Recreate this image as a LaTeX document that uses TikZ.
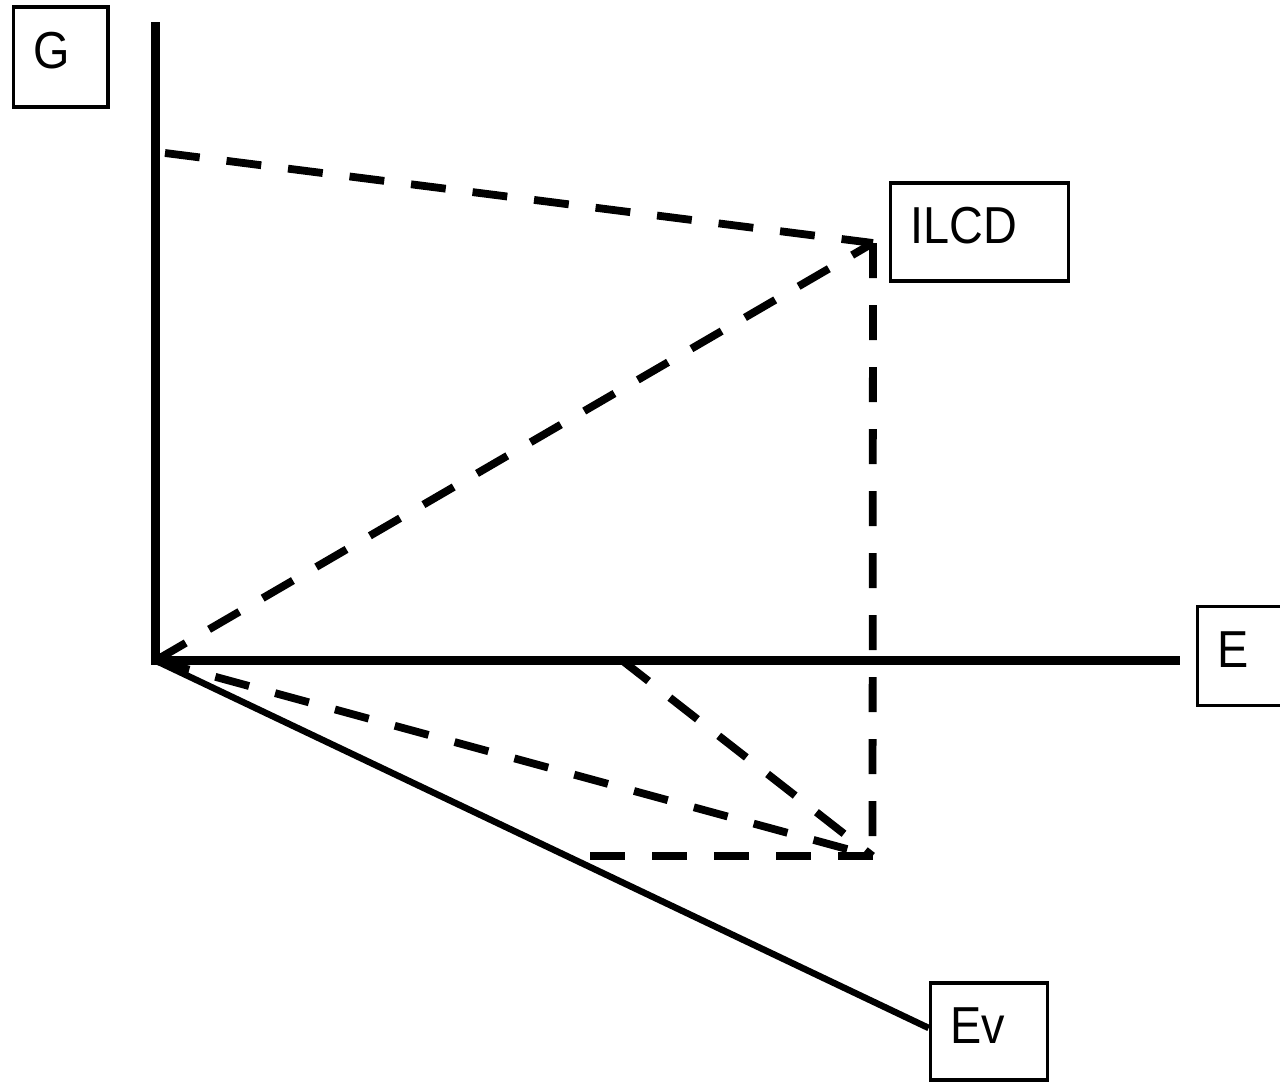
\documentclass[tikz,border=0pt]{standalone}
\usepackage{fontspec}
\setmainfont{Liberation Sans}[FakeStretch=0.9]
\begin{document}
\begin{tikzpicture}[x=0.5pt,y=-0.5pt,
  axisline/.style={line width=4.25pt, line join=miter},
  evline/.style={line width=3.25pt},
  projline/.style={line width=3.9pt, dash pattern=on 17.5pt off 13.5pt},
  lbl/.style={draw, line width=1.8pt, rectangle, align=left, inner xsep=10pt, inner ysep=0pt,
    text height=18.6pt, text depth=7pt, font=\fontsize{26}{30}\selectfont}]
\clip (0,0) rectangle (1280,1083);
% label boxes
\node[lbl, text width=27.25pt, minimum height=50pt] (G) at (60.7,57) {G};
\node[lbl, text width=69pt, minimum height=49pt] (ILCD) at (979.6,232) {ILCD};
\node[lbl, text width=28pt, minimum height=49.35pt] (E) at (1245.5,656) {E};
\node[lbl, text width=38.5pt, minimum height=48.5pt] (Ev) at (989,1031.5) {Ev};
% key points
\coordinate (O) at (155.5,660.5);
\coordinate (Gtop) at (155.5,22);
\coordinate (Eend) at (1180,660.5);
\coordinate (P) at (873,243);
\coordinate (Q) at (872.5,856);
\coordinate (A) at (165,153);
\coordinate (H) at (590,856);
\coordinate (M) at (621,659.5);
% axes
\draw[axisline] (Gtop) -- (O) -- (Eend);
\draw[evline] (O) -- ([yshift=1.75pt]Ev.west);
% dashed projections
\draw[projline] (A) -- (P);
\draw[projline] (O) -- (P);
\draw[projline] (P) -- (Q);
\draw[projline] (H) -- (Q);
\draw[projline] (O) -- (Q);
\draw[projline] (M) -- (Q);
\end{tikzpicture}
\end{document}
